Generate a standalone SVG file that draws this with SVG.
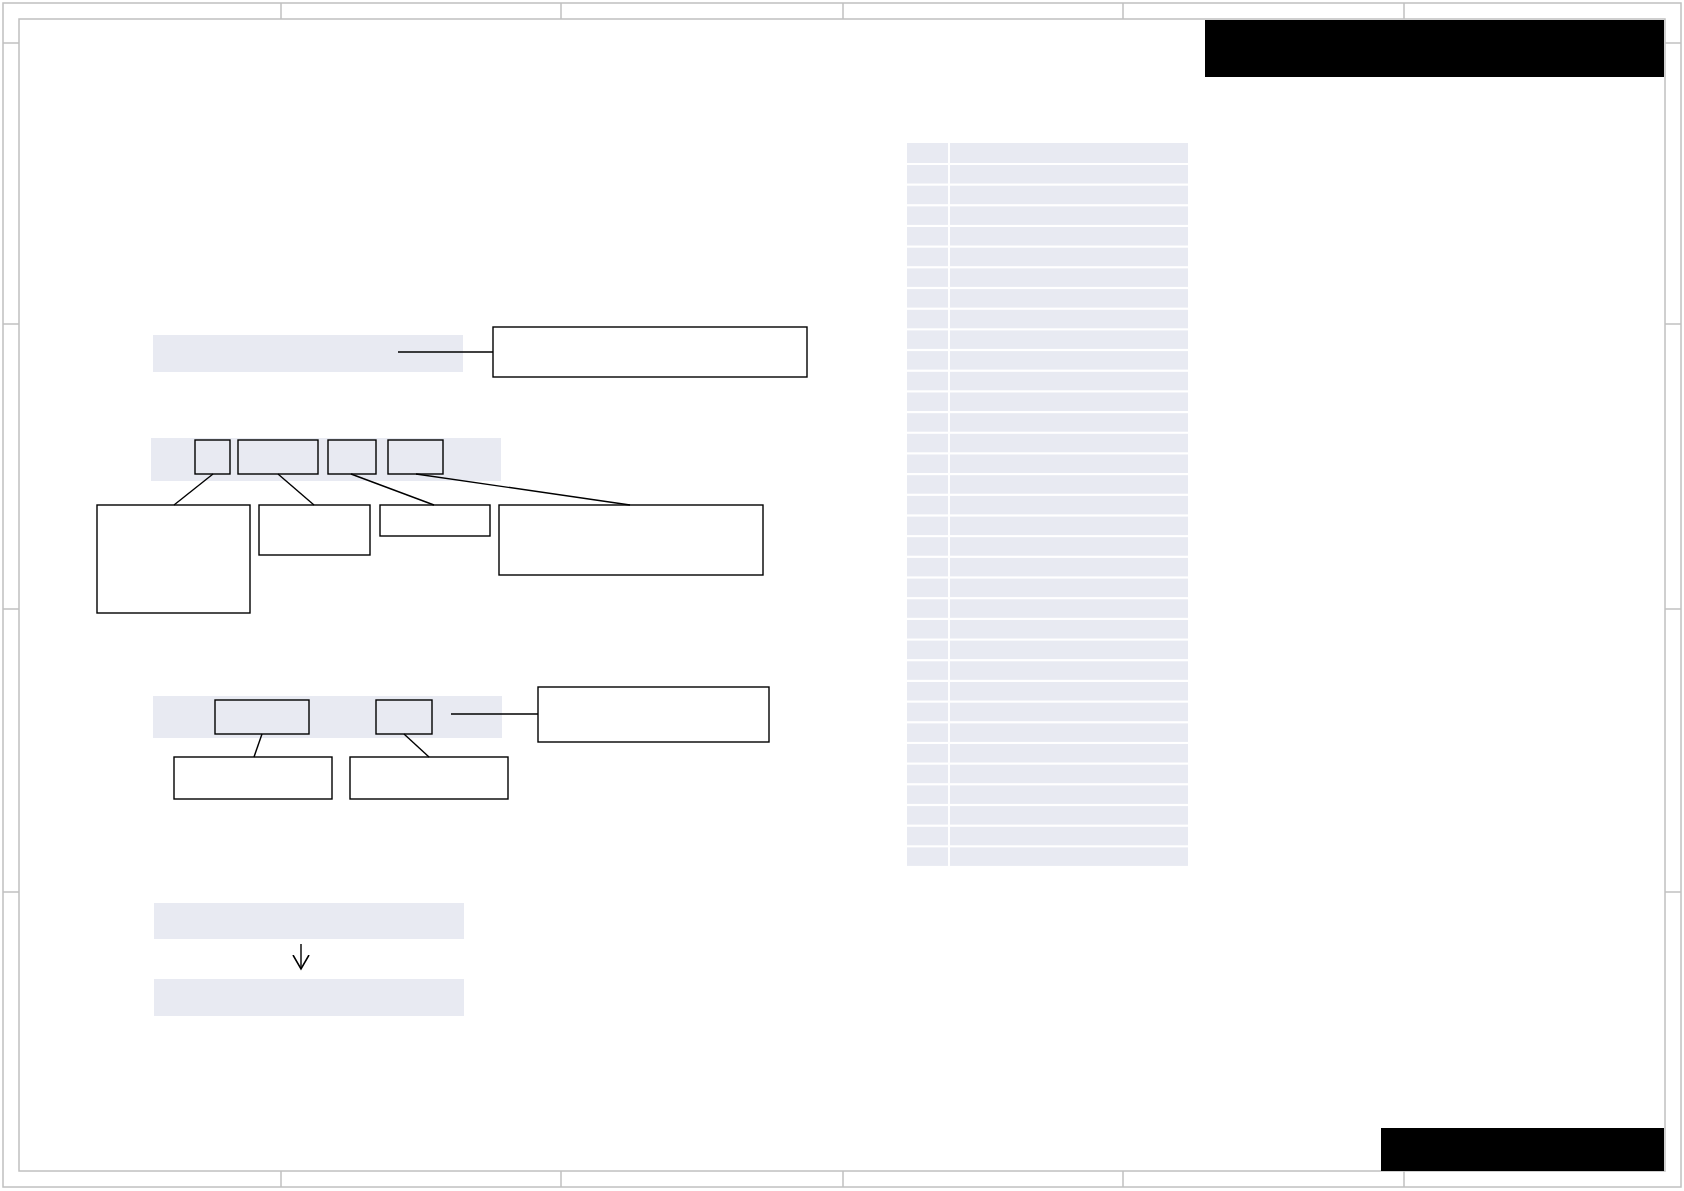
<svg xmlns="http://www.w3.org/2000/svg" width="1684" height="1191" viewBox="0 0 1684 1191">
<style>
.frame{fill:none;stroke:#c0c0c0;stroke-width:1.5}
.tick{stroke:#c0c0c0;stroke-width:1.5}
.bar{fill:#e8eaf2}
.box{fill:none;stroke:#000;stroke-width:1.4}
.con{stroke:#000;stroke-width:1.4;fill:none}
.blk{fill:#000}
</style>
<defs>
<marker id="arr" viewBox="0 0 16 18" refX="14" refY="9" markerWidth="16" markerHeight="18" markerUnits="userSpaceOnUse" orient="auto">
<path d="M0,1 L14,9 L0,17" fill="none" stroke="#000" stroke-width="1.6"/>
</marker>
</defs>
<rect width="1684" height="1191" fill="#fff"/>
<g id="frame">
<rect class="frame" x="3" y="3" width="1678" height="1184"/>
<rect class="frame" x="19" y="19" width="1646" height="1152"/>
<line class="tick" x1="281" y1="3" x2="281" y2="19"/>
<line class="tick" x1="561" y1="3" x2="561" y2="19"/>
<line class="tick" x1="843" y1="3" x2="843" y2="19"/>
<line class="tick" x1="1123" y1="3" x2="1123" y2="19"/>
<line class="tick" x1="1404" y1="3" x2="1404" y2="19"/>
<line class="tick" x1="281" y1="1171" x2="281" y2="1187"/>
<line class="tick" x1="561" y1="1171" x2="561" y2="1187"/>
<line class="tick" x1="843" y1="1171" x2="843" y2="1187"/>
<line class="tick" x1="1123" y1="1171" x2="1123" y2="1187"/>
<line class="tick" x1="1404" y1="1171" x2="1404" y2="1187"/>
<line class="tick" x1="3" y1="43" x2="19" y2="43"/>
<line class="tick" x1="3" y1="324" x2="19" y2="324"/>
<line class="tick" x1="3" y1="609" x2="19" y2="609"/>
<line class="tick" x1="3" y1="892" x2="19" y2="892"/>
<line class="tick" x1="1665" y1="43" x2="1681" y2="43"/>
<line class="tick" x1="1665" y1="324" x2="1681" y2="324"/>
<line class="tick" x1="1665" y1="609" x2="1681" y2="609"/>
<line class="tick" x1="1665" y1="892" x2="1681" y2="892"/>
</g>
<g id="title-block">
<rect class="blk" x="1205" y="20" width="459" height="57"/>
<rect class="blk" x="1381" y="1128" width="283" height="43"/>
</g>
<g id="bars">
<rect id="bar1" class="bar" x="153" y="335" width="310" height="37"/>
<rect id="bar2" class="bar" x="151" y="438" width="350" height="43"/>
<rect id="bar3" class="bar" x="153" y="696" width="349" height="42"/>
<rect id="bar4" class="bar" x="154" y="903" width="310" height="36"/>
<rect id="bar5" class="bar" x="154" y="979" width="310" height="37"/>
</g>
<g id="node-box1"><rect class="box" x="493" y="327" width="314" height="50"/></g>
<g id="node-a"><rect class="box" x="195" y="440" width="35" height="34"/></g>
<g id="node-b"><rect class="box" x="238" y="440" width="80" height="34"/></g>
<g id="node-c"><rect class="box" x="328" y="440" width="48" height="34"/></g>
<g id="node-d"><rect class="box" x="388" y="440" width="55" height="34"/></g>
<g id="node-e"><rect class="box" x="97" y="505" width="153" height="108"/></g>
<g id="node-f"><rect class="box" x="259" y="505" width="111" height="50"/></g>
<g id="node-g"><rect class="box" x="380" y="505" width="110" height="31"/></g>
<g id="node-h"><rect class="box" x="499" y="505" width="264" height="70"/></g>
<g id="node-i"><rect class="box" x="215" y="700" width="94" height="34"/></g>
<g id="node-j"><rect class="box" x="376" y="700" width="56" height="34"/></g>
<g id="node-k"><rect class="box" x="538" y="687" width="231" height="55"/></g>
<g id="node-l"><rect class="box" x="174" y="757" width="158" height="42"/></g>
<g id="node-m"><rect class="box" x="350" y="757" width="158" height="42"/></g>
<g id="table">
<rect class="bar" x="907" y="143" width="41" height="20"/>
<rect class="bar" x="950" y="143" width="238" height="20"/>
<g id="rows">
<rect class="bar" x="907" y="165" width="41" height="18.5"/><rect class="bar" x="950" y="165" width="238" height="18.5"/>
<rect class="bar" x="907" y="185.7" width="41" height="18.5"/><rect class="bar" x="950" y="185.7" width="238" height="18.5"/>
<rect class="bar" x="907" y="206.4" width="41" height="18.5"/><rect class="bar" x="950" y="206.4" width="238" height="18.5"/>
<rect class="bar" x="907" y="227" width="41" height="18.5"/><rect class="bar" x="950" y="227" width="238" height="18.5"/>
<rect class="bar" x="907" y="247.7" width="41" height="18.5"/><rect class="bar" x="950" y="247.7" width="238" height="18.5"/>
<rect class="bar" x="907" y="268.4" width="41" height="18.5"/><rect class="bar" x="950" y="268.4" width="238" height="18.5"/>
<rect class="bar" x="907" y="289.1" width="41" height="18.5"/><rect class="bar" x="950" y="289.1" width="238" height="18.5"/>
<rect class="bar" x="907" y="309.8" width="41" height="18.5"/><rect class="bar" x="950" y="309.8" width="238" height="18.5"/>
<rect class="bar" x="907" y="330.4" width="41" height="18.5"/><rect class="bar" x="950" y="330.4" width="238" height="18.5"/>
<rect class="bar" x="907" y="351.1" width="41" height="18.5"/><rect class="bar" x="950" y="351.1" width="238" height="18.5"/>
<rect class="bar" x="907" y="371.8" width="41" height="18.5"/><rect class="bar" x="950" y="371.8" width="238" height="18.5"/>
<rect class="bar" x="907" y="392.5" width="41" height="18.5"/><rect class="bar" x="950" y="392.5" width="238" height="18.5"/>
<rect class="bar" x="907" y="413.2" width="41" height="18.5"/><rect class="bar" x="950" y="413.2" width="238" height="18.5"/>
<rect class="bar" x="907" y="433.8" width="41" height="18.5"/><rect class="bar" x="950" y="433.8" width="238" height="18.5"/>
<rect class="bar" x="907" y="454.5" width="41" height="18.5"/><rect class="bar" x="950" y="454.5" width="238" height="18.5"/>
<rect class="bar" x="907" y="475.2" width="41" height="18.5"/><rect class="bar" x="950" y="475.2" width="238" height="18.5"/>
<rect class="bar" x="907" y="495.9" width="41" height="18.5"/><rect class="bar" x="950" y="495.9" width="238" height="18.5"/>
<rect class="bar" x="907" y="516.6" width="41" height="18.5"/><rect class="bar" x="950" y="516.6" width="238" height="18.5"/>
<rect class="bar" x="907" y="537.2" width="41" height="18.5"/><rect class="bar" x="950" y="537.2" width="238" height="18.5"/>
<rect class="bar" x="907" y="557.9" width="41" height="18.5"/><rect class="bar" x="950" y="557.9" width="238" height="18.5"/>
<rect class="bar" x="907" y="578.6" width="41" height="18.5"/><rect class="bar" x="950" y="578.6" width="238" height="18.5"/>
<rect class="bar" x="907" y="599.3" width="41" height="18.5"/><rect class="bar" x="950" y="599.3" width="238" height="18.5"/>
<rect class="bar" x="907" y="620" width="41" height="18.5"/><rect class="bar" x="950" y="620" width="238" height="18.5"/>
<rect class="bar" x="907" y="640.6" width="41" height="18.5"/><rect class="bar" x="950" y="640.6" width="238" height="18.5"/>
<rect class="bar" x="907" y="661.3" width="41" height="18.5"/><rect class="bar" x="950" y="661.3" width="238" height="18.5"/>
<rect class="bar" x="907" y="682" width="41" height="18.5"/><rect class="bar" x="950" y="682" width="238" height="18.5"/>
<rect class="bar" x="907" y="702.7" width="41" height="18.5"/><rect class="bar" x="950" y="702.7" width="238" height="18.5"/>
<rect class="bar" x="907" y="723.4" width="41" height="18.5"/><rect class="bar" x="950" y="723.4" width="238" height="18.5"/>
<rect class="bar" x="907" y="744" width="41" height="18.5"/><rect class="bar" x="950" y="744" width="238" height="18.5"/>
<rect class="bar" x="907" y="764.7" width="41" height="18.5"/><rect class="bar" x="950" y="764.7" width="238" height="18.5"/>
<rect class="bar" x="907" y="785.4" width="41" height="18.5"/><rect class="bar" x="950" y="785.4" width="238" height="18.5"/>
<rect class="bar" x="907" y="806.1" width="41" height="18.5"/><rect class="bar" x="950" y="806.1" width="238" height="18.5"/>
<rect class="bar" x="907" y="826.8" width="41" height="18.5"/><rect class="bar" x="950" y="826.8" width="238" height="18.5"/>
<rect class="bar" x="907" y="847.4" width="41" height="18.5"/><rect class="bar" x="950" y="847.4" width="238" height="18.5"/>
</g>
</g>
<g id="connectors">
<line class="con" x1="398" y1="352" x2="493" y2="352"/>
<line class="con" x1="213" y1="474" x2="174" y2="505"/>
<line class="con" x1="278" y1="474" x2="314" y2="505"/>
<line class="con" x1="351" y1="474" x2="434" y2="505"/>
<line class="con" x1="416" y1="474" x2="630" y2="505"/>
<line class="con" x1="451" y1="714" x2="538" y2="714"/>
<line class="con" x1="262" y1="734" x2="254" y2="757"/>
<line class="con" x1="404" y1="734" x2="429" y2="757"/>
<line class="con" x1="301" y1="944" x2="301" y2="969" marker-end="url(#arr)"/>
</g>
</svg>
